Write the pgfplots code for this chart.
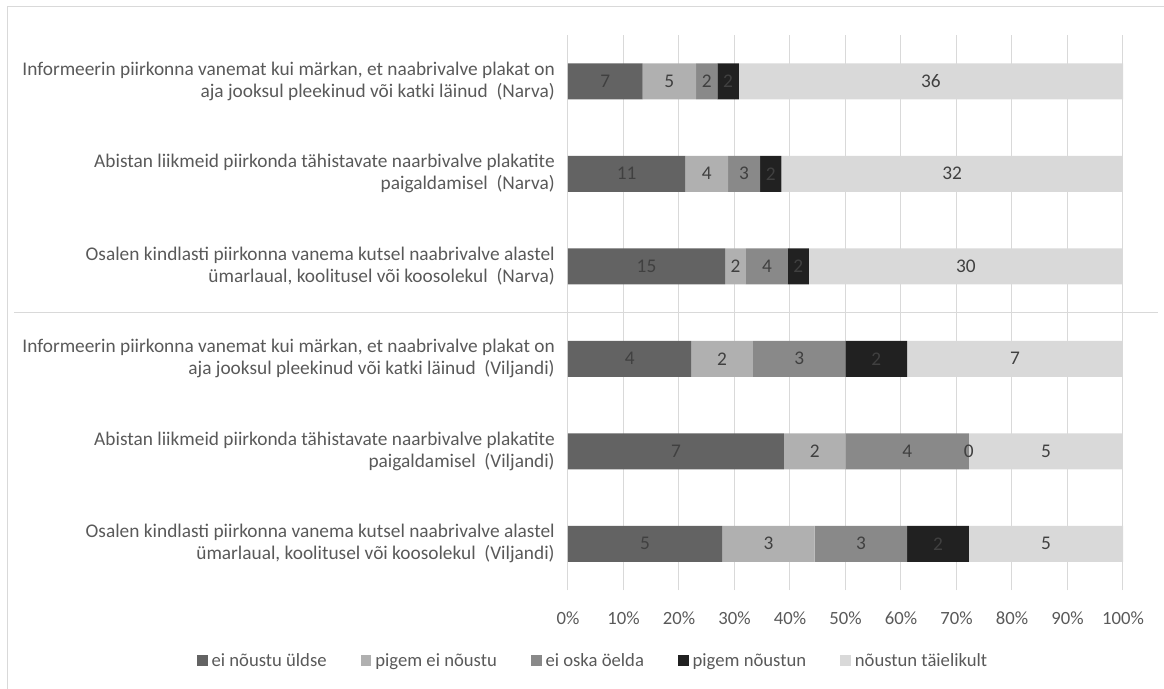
\documentclass[border=0pt]{standalone}
\usepackage{fontspec}
\setmainfont{Carlito}
\usepackage{pgfplots}
\pgfplotsset{compat=1.18}
\definecolor{c1}{HTML}{636363}
\definecolor{c2}{HTML}{B0B0B0}
\definecolor{c3}{HTML}{898989}
\definecolor{c4}{HTML}{212121}
\definecolor{c5}{HTML}{D9D9D9}
\definecolor{gridc}{HTML}{D9D9D9}
\definecolor{txt}{HTML}{595959}
\definecolor{lbl}{HTML}{404040}
\begin{document}
\begin{tikzpicture}
\begin{axis}[
  scale only axis,
  width=416.25pt, height=416.25pt,
  xbar stacked,
  bar width=27pt,
  xmin=0, xmax=100, ymin=-0.5, ymax=5.5,
  clip=false,
  axis line style={draw=none},
  tick style={draw=none},
  xtick={0,10,...,100},
  xticklabel={\pgfmathprintnumber{\tick}\%},
  /pgf/number format/assume math mode=true,
  xmajorgrids, grid style={gridc, line width=0.75pt},
  ytick={0,1,2,3,4,5},
  yticklabels={
    {Osalen kindlasti piirkonna vanema kutsel naabrivalve alastel\\ümarlaual, koolitusel või koosolekul~ (Viljandi)},
    {Abistan liikmeid piirkonda tähistavate naarbivalve plakatite\\paigaldamisel~ (Viljandi)},
    {Informeerin piirkonna vanemat kui märkan, et naabrivalve plakat on\\aja jooksul pleekinud või katki läinud~ (Viljandi)},
    {Osalen kindlasti piirkonna vanema kutsel naabrivalve alastel\\ümarlaual, koolitusel või koosolekul~ (Narva)},
    {Abistan liikmeid piirkonda tähistavate naarbivalve plakatite\\paigaldamisel~ (Narva)},
    {Informeerin piirkonna vanemat kui märkan, et naabrivalve plakat on\\aja jooksul pleekinud või katki läinud~ (Narva)}},
  yticklabel style={align=right, font=\fontsize{14.5}{16.5}\selectfont, text=txt, inner sep=0pt, xshift=-9.75pt},
  xticklabel style={font=\fontsize{14}{16}\selectfont, text=txt, yshift=-13pt},
  point meta=explicit symbolic,
  nodes near coords={\pgfplotspointmeta},
  every node near coord/.append style={font=\fontsize{14.5}{16}\selectfont, text=lbl},
  legend columns=5,
  legend style={at={(0.047,-0.128)}, anchor=center, draw=none, fill=none,
    font=\fontsize{14}{16}\selectfont, text=txt,
    nodes={inner xsep=3pt},
    /tikz/every even column/.append style={column sep=22.5pt}},
  legend image code/.code={\fill[#1] (0pt,-3.6pt) rectangle (8pt,4.4pt);},
]
\addplot[fill=c1, draw=none] coordinates {(27.78,0) [5] (38.89,1) [7] (22.22,2) [4] (28.30,3) [15] (21.15,4) [11] (13.46,5) [7]};
\addplot[fill=c2, draw=none] coordinates {(16.67,0) [3] (11.11,1) [2] (11.11,2) [2] (3.77,3) [2] (7.69,4) [4] (9.62,5) [5]};
\addplot[fill=c3, draw=none] coordinates {(16.67,0) [3] (22.22,1) [4] (16.67,2) [3] (7.55,3) [4] (5.77,4) [3] (3.85,5) [2]};
\addplot[fill=c4, draw=none] coordinates {(11.11,0) [2] (0,1) [] (11.11,2) [2] (3.77,3) [2] (3.85,4) [2] (3.85,5) [2]};
\addplot[fill=c5, draw=none] coordinates {(27.78,0) [5] (27.78,1) [5] (38.89,2) [7] (56.60,3) [30] (61.54,4) [32] (69.23,5) [36]};
\legend{ei nõustu üldse, pigem ei nõustu, ei oska öelda, pigem nõustun, nõustun täielikult}
% label of the zero-width "pigem nõustun" segment (cumulative 72.22 %), drawn above the bars;
% the xshift cancels the half-length centring that stacked labels receive
\addplot[stack plots=false, only marks, mark=none, forget plot,
  every node near coord/.append style={anchor=center, xshift=150.3pt}]
  coordinates {(72.22,1) [0]};
\draw[gridc, line width=0.75pt] (axis cs:-99.8,2.5) -- (axis cs:106.3,2.5);
\end{axis}
\draw[gridc, line width=0.75pt] (-420pt,-80pt) -- (-420pt,437.25pt) -- (450pt,437.25pt);
\pgfresetboundingbox
\useasboundingbox (-426pt,-74.25pt) rectangle (447pt,442.5pt);
\end{tikzpicture}
\end{document}
